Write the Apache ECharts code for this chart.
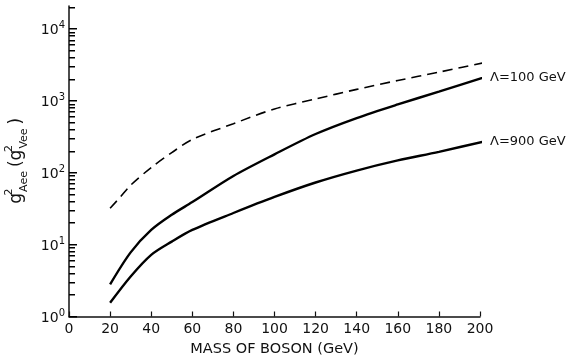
<!DOCTYPE html>
<html>
<head>
<meta charset="utf-8">
<script src="https://cdn.jsdelivr.net/npm/echarts@6/dist/echarts.min.js"></script>
<style>html,body{margin:0;padding:0;background:#fff}#c{width:581px;height:362px}</style>
</head>
<body>
<div id="c"></div>
<script>
// Data
var massSolid = [20, 30, 40, 50, 60, 80, 100, 120, 140, 160, 180, 205];
var lambda100 = [2.8, 7.8, 16, 26, 39, 90, 180, 345, 575, 890, 1340, 2250];
var lambda900 = [1.55, 3.6, 7.2, 11, 16, 27.5, 46, 73, 107, 148, 195, 285];
var massDashed = [20, 25, 30, 40, 50, 60, 80, 100, 120, 140, 160, 180, 205];
var dashedVals = [32, 46, 67, 118, 190, 290, 480, 770, 1060, 1440, 1915, 2500, 3530];
var xTicks = [0, 20, 40, 60, 80, 100, 120, 140, 160, 180, 200];
var majorTickVals = [1, 10, 100, 1000, 10000];
var minorTickVals = [];
[1, 10, 100, 1000].forEach(function (d) { for (var k = 2; k <= 9; k++) minorTickVals.push(k * d); });
minorTickVals.push(20000);

function pairs(xs, ys) { return xs.map(function (x, i) { return [x, ys[i]]; }); }

var FONT = 'DejaVu Sans';
var tickData = majorTickVals.map(function (v) { return [0, v, 1]; })
  .concat(minorTickVals.map(function (v) { return [0, v, 0]; }));

var chart = echarts.init(document.getElementById('c'), null, { renderer: 'canvas' });
chart.setOption({
  animation: false,
  backgroundColor: '#fff',
  grid: { left: 69, right: 101, top: 6, bottom: 45.5, containLabel: false, outerBoundsMode: 'none' },
  xAxis: {
    type: 'value', min: 0, max: 200, interval: 20,
    name: 'MASS OF BOSON (GeV)', nameLocation: 'middle', nameGap: 21,
    nameTextStyle: { fontFamily: FONT, fontSize: 14.5, color: '#111' },
    axisLine: { lineStyle: { color: '#111', width: 1.5 } },
    axisTick: { inside: true, length: 5, lineStyle: { color: '#111', width: 1.2 } },
    axisLabel: { fontFamily: FONT, fontSize: 14, color: '#111', margin: 6 },
    splitLine: { show: false }
  },
  yAxis: {
    type: 'log', min: 1, max: 20800,
    name: '{g|g}{sp|2}{sb|Aee}{g|(g}{sp|2}{sb|Vee}{g|)}',
    nameLocation: 'middle', nameGap: 37,
    nameTextStyle: {
      fontFamily: FONT, color: '#111',
      rich: {
        g: { fontFamily: FONT, fontSize: 17, color: '#111', lineHeight: 26, verticalAlign: 'middle', padding: [0, 1, 0, 2] },
        sp: { fontFamily: FONT, fontSize: 11, color: '#111', width: 0.01, verticalAlign: 'top', lineHeight: 11 },
        sb: { fontFamily: FONT, fontSize: 11, color: '#111', verticalAlign: 'bottom', lineHeight: 11, padding: [0, 2, 0, 0] }
      }
    },
    axisLine: { show: true, lineStyle: { color: '#111', width: 1.5 } },
    axisTick: { show: false },
    axisLabel: {
      margin: 4, color: '#111',
      formatter: function (v) {
        var e = Math.round(Math.log10(v));
        if (Math.abs(Math.pow(10, e) - v) / v > 1e-6) return '';
        return '{b|10}{s|' + e + '}';
      },
      rich: {
        b: { fontFamily: FONT, fontSize: 14, color: '#111', lineHeight: 17, verticalAlign: 'bottom' },
        s: { fontFamily: FONT, fontSize: 10, color: '#111', lineHeight: 10, verticalAlign: 'top' }
      }
    },
    splitLine: { show: false }
  },
  series: [
    {
      type: 'line', smooth: 0.3, showSymbol: false, clip: false,
      data: pairs(massSolid, lambda100),
      lineStyle: { color: '#000', width: 2.4 },
      endLabel: { show: true, formatter: 'Λ=100 GeV', distance: 8, fontFamily: FONT, fontSize: 13, color: '#111' }
    },
    {
      type: 'line', smooth: 0.3, showSymbol: false, clip: false,
      data: pairs(massSolid, lambda900),
      lineStyle: { color: '#000', width: 2.4 },
      endLabel: { show: true, formatter: 'Λ=900 GeV', distance: 8, fontFamily: FONT, fontSize: 13, color: '#111' }
    },
    {
      type: 'line', smooth: 0.3, showSymbol: false, clip: false,
      data: pairs(massDashed, dashedVals),
      lineStyle: { color: '#000', width: 1.6, type: [10, 6] }
    }
  ]
});

// Log-axis ticks (major + minor), positioned through the chart's own scales
var tickEls = tickData.map(function (t) {
  var p = chart.convertToPixel({ xAxisIndex: 0, yAxisIndex: 0 }, [t[0], t[1]]);
  var len = t[2] ? 8 : 6;
  return {
    type: 'rect', silent: true, z: 100,
    shape: { x: Math.round(p[0]), y: Math.floor(p[1]), width: len, height: 1.5 },
    style: { fill: '#000' }
  };
});
chart.setOption({ graphic: { elements: tickEls } });
</script>
</body>
</html>
